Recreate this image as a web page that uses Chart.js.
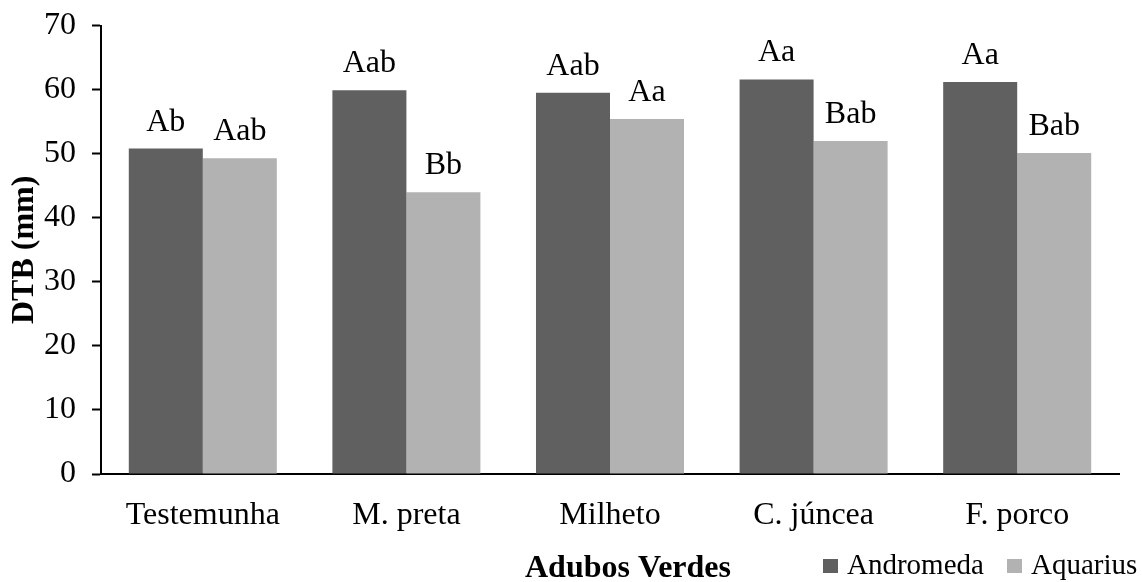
<!DOCTYPE html>
<html>
<head>
<meta charset="utf-8">
<script src="https://cdn.jsdelivr.net/npm/chart.js@4"></script>
<style>
html,body{margin:0;padding:0;background:#fff;}
#wrap{width:1142px;height:582px;position:relative;}
</style>
</head>
<body>
<div id="wrap"><canvas id="c" width="1142" height="582"></canvas></div>
<script>
const categories = ["Testemunha", "M. preta", "Milheto", "C. júncea", "F. porco"];
const andromeda = [50.8, 59.9, 59.5, 61.6, 61.2];
const aquarius = [49.3, 44.0, 55.4, 52.0, 50.1];
const andromedaLetters = ["Ab", "Aab", "Aab", "Aa", "Aa"];
const aquariusLetters = ["Aab", "Bb", "Aa", "Bab", "Bab"];
const yTicks = [0, 10, 20, 30, 40, 50, 60, 70];

const FONT = "'Liberation Serif', 'Times New Roman', serif";

const extraText = {
  id: 'extraText',
  afterDatasetsDraw(chart) {
    const ctx = chart.ctx;
    ctx.save();
    ctx.fillStyle = '#000';
    ctx.font = '32px ' + FONT;
    ctx.textAlign = 'center';
    ctx.textBaseline = 'alphabetic';
    const letterSets = [andromedaLetters, aquariusLetters];
    chart.data.datasets.forEach((ds, i) => {
      const meta = chart.getDatasetMeta(i);
      meta.data.forEach((bar, j) => {
        ctx.fillText(letterSets[i][j], bar.x, bar.y - 18);
      });
    });
    // x-axis title
    ctx.font = 'bold 32px ' + FONT;
    ctx.fillText('Adubos Verdes', 628, 577);
    // legend
    ctx.font = '29px ' + FONT;
    ctx.textAlign = 'left';
    const items = [
      {x: 823, color: chart.data.datasets[0].backgroundColor, label: chart.data.datasets[0].label},
      {x: 1007, color: chart.data.datasets[1].backgroundColor, label: chart.data.datasets[1].label}
    ];
    items.forEach(it => {
      ctx.fillStyle = it.color;
      ctx.fillRect(it.x, 559, 15, 14);
      ctx.fillStyle = '#000';
      ctx.fillText(it.label, it.x + 24, 574);
    });
    ctx.restore();
  }
};

new Chart(document.getElementById('c'), {
  type: 'bar',
  data: {
    labels: categories,
    datasets: [
      {label: 'Andromeda', data: andromeda, backgroundColor: '#606060', borderWidth: 0},
      {label: 'Aquarius', data: aquarius, backgroundColor: '#b2b2b2', borderWidth: 0}
    ]
  },
  options: {
    responsive: false,
    animation: false,
    devicePixelRatio: 1,
    layout: {padding: {top: 21, right: 23, left: 0, bottom: 0}},
    plugins: {legend: {display: false}, tooltip: {enabled: false}, title: {display: false}},
    datasets: {bar: {categoryPercentage: 0.727, barPercentage: 1.0}},
    scales: {
      x: {
        grid: {display: false, drawTicks: false},
        border: {display: true, color: '#000', width: 2},
        ticks: {color: '#000', font: {family: FONT, size: 32}, padding: 22, maxRotation: 0},
        afterFit(scale) { scale.height = 108; }
      },
      y: {
        min: 0, max: 70,
        afterBuildTicks(scale) { scale.ticks = yTicks.map(v => ({value: v})); },
        grid: {display: true, drawOnChartArea: false, drawTicks: true, tickLength: 9, color: '#000', tickColor: '#000', tickWidth: 2},
        border: {display: true, color: '#000', width: 2},
        ticks: {color: '#000', font: {family: FONT, size: 32, lineHeight: 0.6}, padding: 16},
        title: {display: true, text: 'DTB (mm)', color: '#000', font: {family: FONT, size: 32, weight: 'bold'}, padding: {top: 6, bottom: 0}},
        afterFit(scale) { scale.width = 101; }
      }
    }
  },
  plugins: [extraText]
});
</script>
</body>
</html>
